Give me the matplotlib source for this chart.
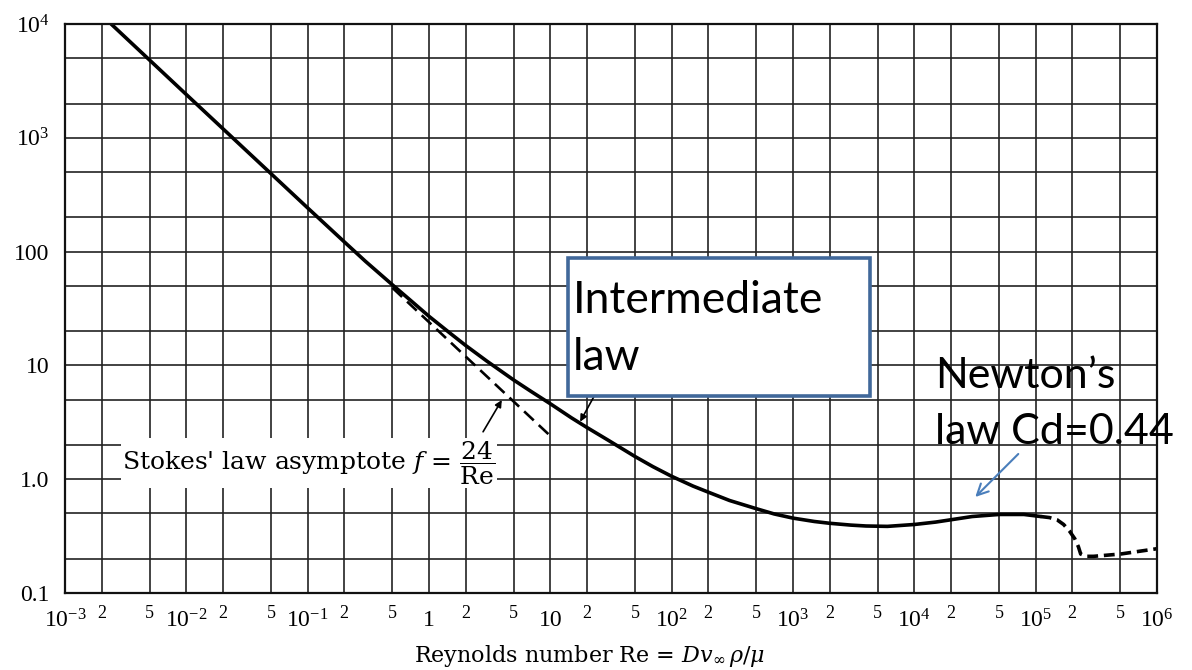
import matplotlib
matplotlib.use('Agg')
import matplotlib.pyplot as plt
from matplotlib.patches import Rectangle

plt.rcParams['font.family'] = ['Liberation Serif', 'DejaVu Serif']
plt.rcParams['mathtext.fontset'] = 'dejavuserif'

# ---- data ----
re_solid = [0.0024, 0.01, 0.1, 0.2, 0.3, 0.5, 0.7, 1.0, 1.5, 2.0, 3.0, 5.0, 7.0, 10, 15, 20,
            30, 50, 70, 100, 150, 200, 300, 500, 700, 1000, 1500, 2000, 3000, 4000, 6000,
            10000, 15000, 20000, 30000, 50000, 80000, 110000]
f_solid = [10000, 2400, 242, 122, 82, 51, 37.5, 27, 19.1, 15.0, 10.9, 7.43, 5.87, 4.6, 3.45, 2.85,
           2.2, 1.58, 1.29, 1.06, 0.87, 0.77, 0.65, 0.55, 0.495, 0.455, 0.425, 0.41, 0.395, 0.388,
           0.385, 0.40, 0.42, 0.44, 0.47, 0.49, 0.49, 0.47]
re_dash = [110000, 130000, 150000, 170000, 190000, 210000, 225000, 235000, 260000, 300000,
           500000, 1000000]
f_dash = [0.47, 0.46, 0.44, 0.40, 0.35, 0.30, 0.255, 0.22, 0.21, 0.21, 0.22, 0.245]
re_stokes = [0.5, 10]
f_stokes = [48, 2.4]

x_major = [1e-3, 1e-2, 1e-1, 1, 10, 1e2, 1e3, 1e4, 1e5, 1e6]
x_major_labels = [r'$\mathdefault{10^{-3}}$', r'$\mathdefault{10^{-2}}$', r'$\mathdefault{10^{-1}}$',
                  '1', '10', r'$\mathdefault{10^{2}}$', r'$\mathdefault{10^{3}}$',
                  r'$\mathdefault{10^{4}}$', r'$\mathdefault{10^{5}}$', r'$\mathdefault{10^{6}}$']
x_minor = [m * d for d in [1e-3, 1e-2, 1e-1, 1, 10, 1e2, 1e3, 1e4, 1e5] for m in (2, 5)]
x_minor_labels = ['2', '5'] * 9
y_major = [0.1, 1, 10, 100, 1e3, 1e4]
y_major_labels = ['0.1', '1.0', '10', '100', r'$\mathdefault{10^{3}}$', r'$\mathdefault{10^{4}}$']
y_minor = [m * d for d in [0.1, 1, 10, 100, 1e3] for m in (2, 5)]

fig = plt.figure(figsize=(11.92, 6.70), dpi=100)
ax = fig.add_axes([65 / 1192, 77 / 670, 1092 / 1192, 569 / 670])
ax.set_xscale('log')
ax.set_yscale('log')
ax.set_xlim(1e-3, 1e6)
ax.set_ylim(0.1, 1e4)

ax.set_xticks(x_major, x_major_labels)
ax.set_xticks(x_minor, x_minor_labels, minor=True)
ax.set_yticks(y_major, y_major_labels)
ax.set_yticks(y_minor, [''] * len(y_minor), minor=True)
ax.tick_params(which='both', length=0)
ax.tick_params(axis='x', which='major', labelsize=17, pad=12)
ax.tick_params(axis='x', which='minor', labelsize=13, pad=9)
ax.tick_params(axis='y', which='major', labelsize=17, pad=11)

ax.set_axisbelow(True)
ax.grid(True, which='both', color='#222222', lw=1.2)
for s in ax.spines.values():
    s.set_linewidth(1.6)
    s.set_color('#111111')

ax.plot(re_solid, f_solid, color='black', lw=2.6, solid_capstyle='round',
        solid_joinstyle='round', zorder=2)
ax.plot(re_dash, f_dash, color='black', lw=2.6, dashes=(3, 1.6), zorder=2)
ax.plot(re_stokes, f_stokes, color='black', lw=1.9, dashes=(5, 2.6), zorder=2)

ax.text(2.95e-3, 1.39, r"Stokes' law asymptote $f$ = $\dfrac{24}{\mathrm{Re}}$",
        family='DejaVu Serif', fontsize=18, va='center', ha='left', zorder=3,
        bbox=dict(facecolor='white', edgecolor='none', pad=1))

ax.annotate('', xy=(3.98, 4.96), xytext=(2.79, 2.61),
            arrowprops=dict(arrowstyle='-|>', color='black', lw=1.2,
                            mutation_scale=10, shrinkA=0, shrinkB=0), zorder=3)
ax.annotate('', xy=(17.6, 3.20), xytext=(25.8, 6.73),
            arrowprops=dict(arrowstyle='-|>', color='black', lw=1.2,
                            mutation_scale=10, shrinkA=0, shrinkB=0), zorder=3)

box = Rectangle((14.0, 5.38), 4330 - 14.0, 87.9 - 5.38, facecolor='white',
                edgecolor='#41689A', lw=2.6, zorder=4)
ax.add_patch(box)
ax.text(15.4, 21.0, 'Intermediate\nlaw', family='Lato', fontsize=32,
        va='center', ha='left', linespacing=1.48, zorder=5)

ax.text(14860, 4.55, 'Newton\u2019s\nlaw Cd=0.44', family='Lato', fontsize=31,
        va='center', ha='left', linespacing=1.58, zorder=5)
ax.annotate('', xy=(31800, 0.698), xytext=(71900, 1.666),
            arrowprops=dict(arrowstyle='->', color='#4A7EBB', lw=1.5,
                            mutation_scale=20, shrinkA=0, shrinkB=0), zorder=5)

ax.set_xlabel(r'Reynolds number Re = $Dv_{\infty}\,\rho/\mu$', family='DejaVu Serif',
              fontsize=16)
ax.xaxis.set_label_coords((590 - 65) / 1092, -0.088)

fig.savefig('out.png', dpi=100)
